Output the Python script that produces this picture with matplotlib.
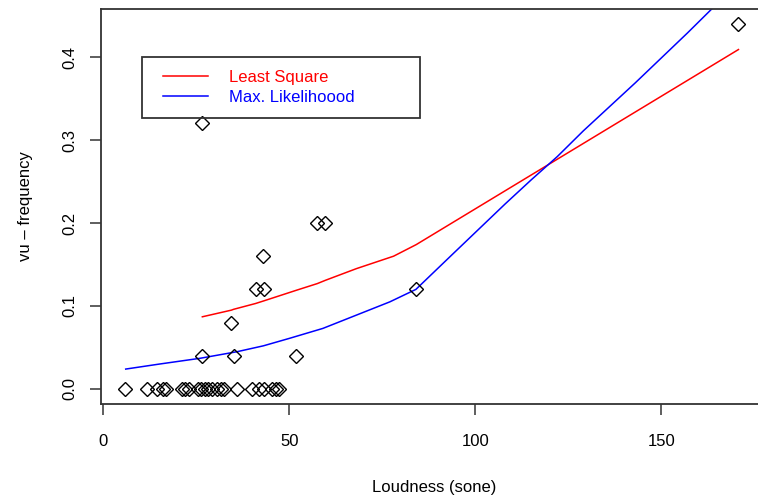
import matplotlib
matplotlib.use("Agg")
import matplotlib.pyplot as plt
from matplotlib.patches import Rectangle

plt.rcParams['font.family'] = ['Liberation Sans', 'DejaVu Sans']

# Observed data
loudness = [5.9, 11.8, 14.5, 15.9, 16.9, 21.2, 22.0, 23.1, 25.3, 26.3, 27.4, 28.0,
            29.3, 30.6, 31.7, 32.5, 35.8, 40.0, 41.9, 43.3, 45.2, 46.5, 47.3,
            26.6, 26.6, 34.4, 35.0, 40.9, 43.3, 43.0, 51.9, 57.5, 59.7, 84.1, 170.7]
frequency = [0.0] * 23 + [0.32, 0.04, 0.08, 0.04, 0.12, 0.12, 0.16, 0.04, 0.20, 0.20, 0.12, 0.44]

# Least square fit curve
ls_x = [26.6, 34.4, 35.0, 40.9, 43.0, 51.9, 57.5, 59.7, 68.0, 78.0, 84.1, 170.7]
ls_y = [0.087, 0.095, 0.096, 0.103, 0.106, 0.119, 0.127, 0.131, 0.145, 0.160, 0.174, 0.409]

# Maximum likelihood fit curve
ml_x = [6, 15, 26, 36, 43, 50, 59, 68, 77, 84, 94, 101, 108, 115, 122, 129, 136, 143,
        150, 157, 164, 171]
ml_y = [0.024, 0.030, 0.037, 0.045, 0.052, 0.061, 0.073, 0.089, 0.105, 0.120, 0.163,
        0.193, 0.223, 0.252, 0.280, 0.311, 0.340, 0.369, 0.399, 0.429, 0.460, 0.490]

xticks = [0, 50, 100, 150]
yticks = [0.0, 0.1, 0.2, 0.3, 0.4]
ytick_labels = ['0.0', '0.1', '0.2', '0.3', '0.4']

W, H = 758, 501
fig = plt.figure(figsize=(W / 100, H / 100), dpi=100)
ax = fig.add_axes([101 / W, (H - 403.6) / H, (768 - 101) / W, (403.6 - 9.2) / H])
ax.set_xlim(-0.64, 178.64)
ax.set_ylim(-0.0176, 0.4576)

ax.plot(loudness, frequency, linestyle='none', marker='D', mfc='none', mec='black',
        ms=7.5, mew=1.0, zorder=3)
ax.plot(ls_x, ls_y, color='#ff0000', lw=1.1, label='Least Square')
ax.plot(ml_x, ml_y, color='#0000ff', lw=1.1, label='Max. Likelihoood')

for s in ax.spines.values():
    s.set_color('#333333')
    s.set_linewidth(1.3)

ax.set_xticks(xticks)
ax.set_yticks(yticks)
ax.set_yticklabels(ytick_labels)
ax.tick_params(axis='both', direction='out', length=8, width=1.1, color='#333333',
               labelsize=12)
ax.tick_params(axis='x', pad=14)
ax.tick_params(axis='y', pad=9, labelrotation=90)
for lab in ax.get_yticklabels():
    lab.set_va('center')

ax.set_xlabel('Loudness (sone)', fontsize=12, labelpad=22)
ax.set_ylabel('vu – frequency', fontsize=12, labelpad=21)

leg = ax.legend(loc='upper left', bbox_to_anchor=(163 / W, (H - 70) / H),
                bbox_transform=fig.transFigure, frameon=False, fontsize=12,
                handlelength=2.7, handletextpad=1.25, borderpad=0,
                borderaxespad=0, labelspacing=0.28, labelcolor='linecolor')

fig.patches.append(Rectangle((142 / W, (H - 118) / H), 278 / W, 61 / H,
                             transform=fig.transFigure, fill=False,
                             edgecolor='#333333', lw=1.3))

fig.savefig('out.png', dpi=100)
